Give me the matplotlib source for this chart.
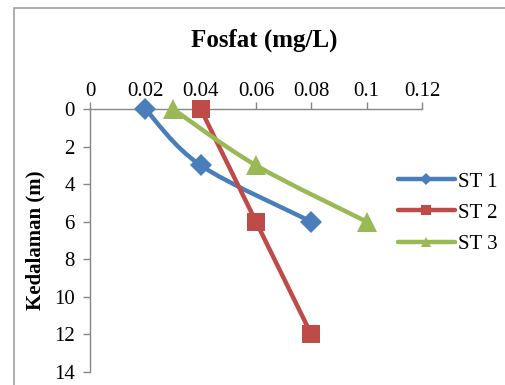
import matplotlib.pyplot as plt
from matplotlib.path import Path
from matplotlib.patches import PathPatch, Rectangle
from matplotlib.lines import Line2D

plt.rcParams['font.family'] = ['Liberation Serif', 'DejaVu Serif']

# data
series = ['ST 1', 'ST 2', 'ST 3']
fosfat = [
    [0.02, 0.04, 0.08],
    [0.04, 0.06, 0.08],
    [0.03, 0.06, 0.10],
]
kedalaman = [
    [0, 3, 6],
    [0, 6, 12],
    [0, 3, 6],
]
colors = ['#4A7EBB', '#BE4B48', '#98B954']
markers = ['D', 's', '^']
msizes = [11, 13, 14]
leg_msizes = [6, 7, 7]
x_ticks = [0, 0.02, 0.04, 0.06, 0.08, 0.1, 0.12]
x_labels = ['0', '0.02', '0.04', '0.06', '0.08', '0.1', '0.12']
y_ticks = [0, 2, 4, 6, 8, 10, 12, 14]


def smooth_path(xs, ys):
    # Excel-like smoothed line: cubic Bezier through the points
    pts = list(zip(xs, ys))
    verts = [pts[0]]
    codes = [Path.MOVETO]
    n = len(pts)
    for i in range(n - 1):
        p0 = pts[i - 1] if i > 0 else pts[i]
        p1 = pts[i]
        p2 = pts[i + 1]
        p3 = pts[i + 2] if i + 2 < n else pts[i + 1]
        c1 = (p1[0] + (p2[0] - p0[0]) / 6, p1[1] + (p2[1] - p0[1]) / 6)
        c2 = (p2[0] - (p3[0] - p1[0]) / 6, p2[1] - (p3[1] - p1[1]) / 6)
        verts += [c1, c2, p2]
        codes += [Path.CURVE4] * 3
    return Path(verts, codes)


fig = plt.figure(figsize=(5.05, 3.85), dpi=100)
fig.patches.append(Rectangle((14 / 505, -0.1), 1.2, 1 - 8 / 385 + 0.1,
                             transform=fig.transFigure, fill=False,
                             edgecolor='#A0A0A0', linewidth=1.2))

ax = fig.add_axes([90 / 505, 1 - 372 / 385, 332 / 505, 263 / 385])

handles = []
for name, xs, ys, c, m, ms, lms in zip(series, fosfat, kedalaman, colors,
                                       markers, msizes, leg_msizes):
    ax.add_patch(PathPatch(smooth_path(xs, ys), fill=False, edgecolor=c,
                           linewidth=3.2, capstyle='round', zorder=2))
    ax.plot(xs, ys, linestyle='none', marker=m, color=c, markersize=ms,
            markeredgewidth=0, zorder=3, clip_on=False)
    handles.append(Line2D([], [], color=c, linewidth=3.2, marker=m,
                          markersize=lms, markeredgewidth=0,
                          solid_capstyle='round'))

ax.set_xlim(0, 0.12)
ax.set_ylim(14, 0)
ax.xaxis.tick_top()
ax.set_xticks(x_ticks)
ax.set_xticklabels(x_labels)
ax.set_yticks(y_ticks)
for s in ['right', 'bottom']:
    ax.spines[s].set_visible(False)
for s in ['top', 'left']:
    ax.spines[s].set_color('#868686')
    ax.spines[s].set_linewidth(1)
ax.tick_params(axis='both', colors='#868686', labelcolor='black',
               labelsize=15, length=5, width=1, direction='out')
ax.tick_params(axis='x', pad=1)
ax.tick_params(axis='y', pad=6)
ax.set_ylabel('Kedalaman (m)', fontsize=15, fontweight='bold', labelpad=6)

fig.text(264 / 505, 1 - 40 / 385, 'Fosfat (mg/L)', ha='center', va='center',
         fontsize=18, fontweight='bold')

fig.legend(handles, series, loc='center left',
           bbox_to_anchor=(390 / 505, 1 - 213 / 385), frameon=False,
           fontsize=15, handlelength=2.7, handletextpad=0.15, labelspacing=0.55,
           borderaxespad=0)

fig.savefig('out.png', dpi=100)
